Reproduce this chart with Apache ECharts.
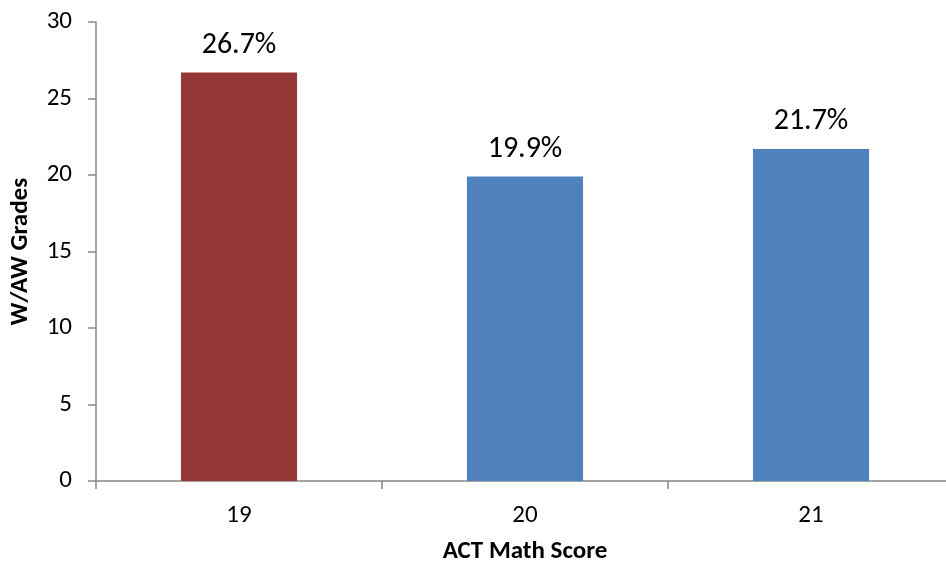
<!DOCTYPE html>
<html>
<head>
<meta charset="utf-8">
<script src="https://cdn.jsdelivr.net/npm/echarts@6/dist/echarts.min.js"></script>
<style>
  html, body { margin: 0; padding: 0; background: #fff; }
  #chart { width: 946px; height: 566px; }
</style>
</head>
<body>
<div id="chart"></div>
<script>
// ACT Math score categories and W/AW grade percentages
const categories = ["19", "20", "21"];
const values = [26.7, 19.9, 21.7];
const barColors = ["#953735", "#4F81BD", "#4F81BD"];
const yTicks = { min: 0, max: 30, interval: 5 };

const font = "Carlito, 'Open Sans', 'Noto Sans', sans-serif";
const axisColor = "#868686";

const chart = echarts.init(document.getElementById("chart"));

const option = {
  animation: false,
  textStyle: { fontFamily: font },
  grid: { left: 96, top: 22, bottom: 85, right: -8, containLabel: false, outerBoundsMode: "none" },
  xAxis: {
    type: "category",
    data: categories,
    name: "ACT Math Score",
    nameLocation: "middle",
    nameGap: 58,
    nameTextStyle: { fontSize: 25, fontWeight: "bold", color: "#000", fontFamily: font },
    axisLine: { lineStyle: { color: axisColor, width: 1.5 } },
    axisTick: { show: true, length: 8, alignWithLabel: false, lineStyle: { color: axisColor, width: 1.5 } },
    axisLabel: { fontSize: 25, color: "#000", margin: 22, fontFamily: font },
  },
  yAxis: {
    type: "value",
    min: yTicks.min,
    max: yTicks.max,
    interval: yTicks.interval,
    name: "W/AW Grades",
    nameLocation: "middle",
    nameGap: 63,
    nameRotate: 90,
    nameTextStyle: { fontSize: 25, fontWeight: "bold", color: "#000", fontFamily: font },
    axisLine: { show: true, lineStyle: { color: axisColor, width: 1.5 } },
    axisTick: { show: true, length: 8, lineStyle: { color: axisColor, width: 1.5 } },
    splitLine: { show: false },
    axisLabel: { fontSize: 25, color: "#000", margin: 24, fontFamily: font },
  },
  series: [
    {
      type: "bar",
      barWidth: "40.6%",
      data: values.map((v, i) => ({ value: v, itemStyle: { color: barColors[i] } })),
      label: {
        show: true,
        position: "top",
        distance: 12,
        fontSize: 30,
        color: "#000",
        fontFamily: font,
        formatter: (p) => p.value.toFixed(1) + "%",
      },
    },
  ],
};

chart.setOption(option);
</script>
</body>
</html>
